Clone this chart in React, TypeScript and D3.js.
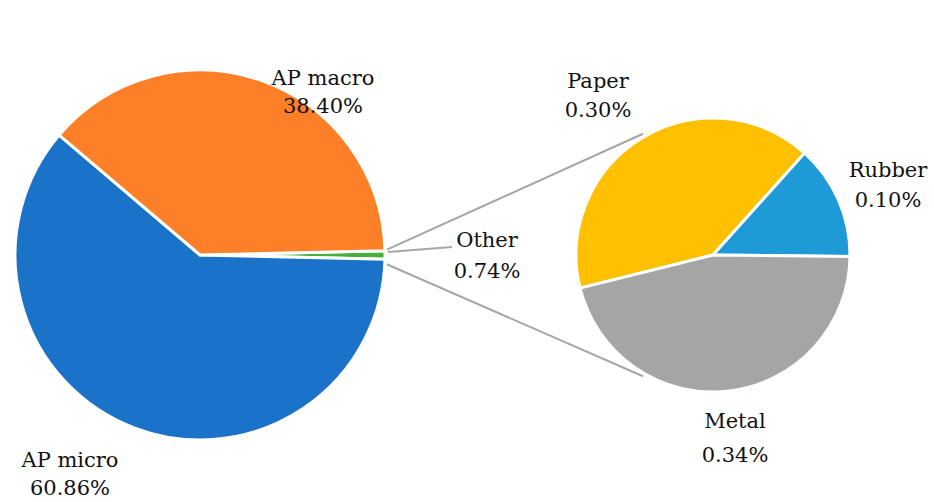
import React from "react";
import * as d3 from "d3";

const mainCategories = ["Other", "AP micro", "AP macro"];
const mainValues = [0.74, 60.86, 38.4];
const mainLabels = ["0.74%", "60.86%", "38.40%"];
const mainColors = ["#4aae3f", "#1a73c8", "#fd7f28"];

const subCategories = ["Paper", "Rubber", "Metal"];
const subValues = [0.3, 0.1, 0.34];
const subLabels = ["0.30%", "0.10%", "0.34%"];
const subColors = ["#ffc000", "#1e9bd7", "#a5a5a5"];

const W = 934;
const H = 502;
const FONT = "'Palatino Linotype', 'Book Antiqua', Palatino, 'DejaVu Serif', serif";

export default function App() {
  const rad = (deg: number) => (deg * Math.PI) / 180;
  const c1 = { x: 200, y: 255, r: 185 };
  const c2 = { x: 713, y: 255, r: 137 };

  const total = d3.sum(mainValues);
  const otherHalf = ((mainValues[0] / total) * 360) / 2;
  const pie1 = d3
    .pie<number>()
    .sort(null)
    .startAngle(rad(90 - otherHalf))
    .endAngle(rad(90 - otherHalf + 360))(mainValues);
  const arc1 = d3.arc<d3.PieArcDatum<number>>().innerRadius(0).outerRadius(c1.r);

  const pie2 = d3
    .pie<number>()
    .sort(null)
    .startAngle(rad(256))
    .endAngle(rad(256 + 360))(subValues);
  const arc2 = d3.arc<d3.PieArcDatum<number>>().innerRadius(0).outerRadius(c2.r);

  const onCircle = (c: { x: number; y: number; r: number }, deg: number, r = c.r) => ({
    x: c.x + r * Math.sin(rad(deg)),
    y: c.y - r * Math.cos(rad(deg)),
  });
  const otherArc = pie1[0];
  const a0 = (otherArc.startAngle * 180) / Math.PI;
  const a1 = (otherArc.endAngle * 180) / Math.PI;
  const pTop = onCircle(c1, a0 - 0.3, c1.r + 2);
  const pBot = onCircle(c1, a1 + 1.5, c1.r + 2);
  const qTop = onCircle(c2, 330, c2.r + 3);
  const qBot = onCircle(c2, 210, c2.r + 3);

  const labelStyle = { fontFamily: FONT, fontSize: 21, fill: "#111" };
  const labels = [
    { x: 323, y: 85, t1: mainCategories[2], t2: mainLabels[2], gap: 28 },
    { x: 70, y: 467, t1: mainCategories[1], t2: mainLabels[1], gap: 28 },
    { x: 487, y: 247, t1: mainCategories[0], t2: mainLabels[0], gap: 31 },
    { x: 598, y: 88, t1: subCategories[0], t2: subLabels[0], gap: 29 },
    { x: 888, y: 177, t1: subCategories[1], t2: subLabels[1], gap: 30 },
    { x: 735, y: 428, t1: subCategories[2], t2: subLabels[2], gap: 34 },
  ];

  return (
    <svg
      width={W}
      height={H}
      style={{ position: "absolute", left: 0, top: 0, background: "#fff" }}
    >
      <g>
        <line x1={pTop.x} y1={pTop.y} x2={qTop.x} y2={qTop.y} stroke="#a6a6a6" strokeWidth={2} />
        <line x1={pBot.x} y1={pBot.y} x2={qBot.x} y2={qBot.y} stroke="#a6a6a6" strokeWidth={2} />
        <line x1={c1.x + c1.r + 3} y1={252} x2={452} y2={247} stroke="#a6a6a6" strokeWidth={2} />
      </g>
      <g transform={`translate(${c1.x},${c1.y})`}>
        {pie1.map((d, i) => (
          <path key={i} d={arc1(d) || ""} fill={mainColors[i]} stroke="#fff" strokeWidth={3} />
        ))}
      </g>
      <g transform={`translate(${c2.x},${c2.y})`}>
        {pie2.map((d, i) => (
          <path key={i} d={arc2(d) || ""} fill={subColors[i]} stroke="#fff" strokeWidth={3} />
        ))}
      </g>
      {labels.map((l, i) => (
        <g key={i}>
          <text x={l.x} y={l.y} textAnchor="middle" style={labelStyle}>
            {l.t1}
          </text>
          <text x={l.x} y={l.y + l.gap} textAnchor="middle" style={labelStyle}>
            {l.t2}
          </text>
        </g>
      ))}
    </svg>
  );
}
